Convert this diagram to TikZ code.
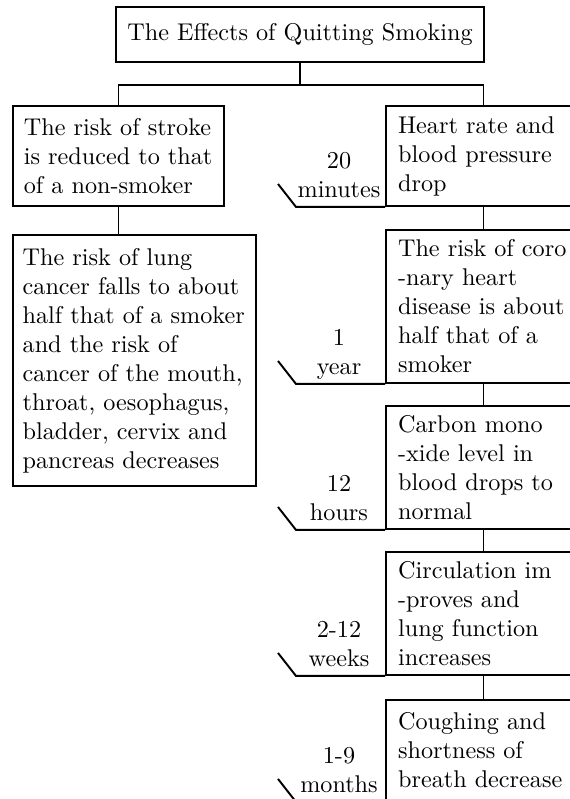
\documentclass[tikz,border=0pt]{standalone}
\usepackage{tikz}

\begin{document}
\begin{tikzpicture}
        [x=0.4132pt,y=-0.4132pt,thick,
         effect/.style={draw,align=left,inner xsep=4.5pt,inner ysep=0pt},
         later/.style={effect,text width=70.6pt,inner xsep=5pt},
         when/.style={align=center,anchor=south,inner sep=0pt,text depth=0pt}]
        \useasboundingbox (0,0) rectangle (570,799);
        \clip (0,0) rectangle (570,799);

        \node[effect,align=center,minimum width=152.1pt,minimum height=22.7pt] (title) at (300,34.5) {The Effects of Quitting Smoking};

        \node[effect,text width=78.2pt,minimum height=41.3pt] (stroke) at (118.5,156) {The risk of stroke\\is reduced to that\\of a non-smoker};
        \node[effect,text width=92.4pt,inner xsep=4pt,minimum height=103.7pt] (lung) at (134.5,360.5) {The risk of lung\\cancer falls to about\\half that of a smoker\\and the risk of\\cancer of the mouth,\\throat, oesophagus,\\bladder, cervix and\\pancreas decreases};

        \node[later,minimum height=41.3pt] (heart) at (483.5,156) {Heart rate and\\blood pressure\\drop};
        \node[later,minimum height=63.2pt] (coronary) at (483.5,306.5) {The risk of coro\\-nary heart\\disease is about\\half that of a\\smoker};
        \node[later,minimum height=50.8pt] (monoxide) at (483.5,467.5) {Carbon mono\\-xide level in\\blood drops to\\normal};
        \node[later,minimum height=50.8pt] (circulation) at (483.5,613.5) {Circulation im\\-proves and\\lung function\\increases};
        \node[later,minimum height=41.7pt] (coughing) at (483.5,750.5) {Coughing and\\shortness of\\breath decrease};

        \draw (title.south) -- ++(0,22) -| (stroke.north);
        \draw (title.south) -- ++(0,22) -| (heart.north);
        \draw (stroke) -- (stroke |- lung.north);

        \foreach \from/\to in {heart/coronary, coronary/monoxide, monoxide/circulation, circulation/coughing}
            \draw (\from) -- (\to);

        % time taken for each effect
        \foreach \eff/\when in {heart/{20\\minutes}, coronary/{1\\year}, monoxide/{12\\hours}, circulation/{2-12\\weeks}, coughing/{1-9\\months}}
          {
            \path (\eff.south west) ++(-46,-8) node[when] (\eff-time) {\when};
            \draw (\eff.south west) -- ++(-89,0) coordinate (\eff-hook) -- ++(-18,-23);
          }

      \end{tikzpicture}
\end{document}
